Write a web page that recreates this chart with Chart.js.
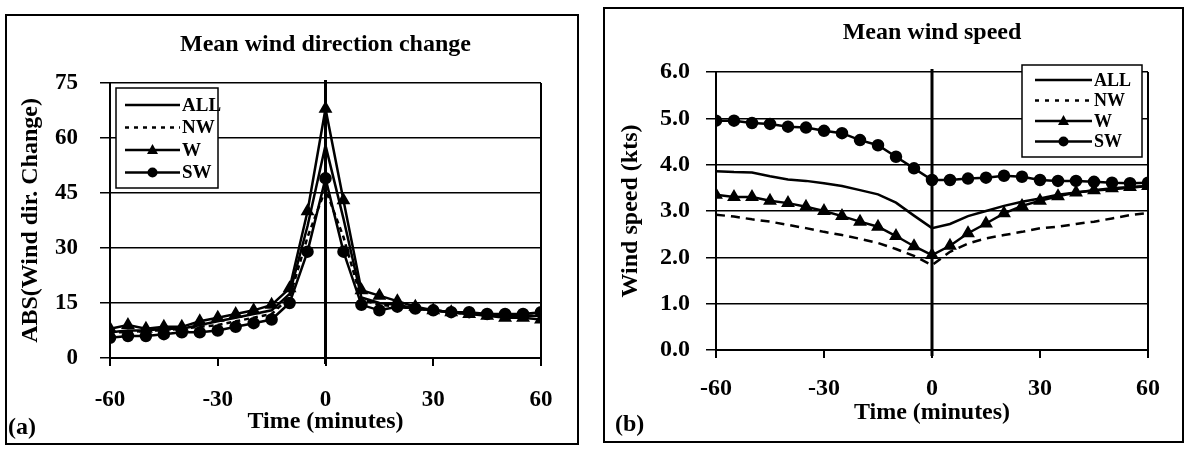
<!DOCTYPE html>
<html>
<head>
<meta charset="utf-8">
<title>Mean wind direction change / Mean wind speed</title>
<script src="https://cdn.jsdelivr.net/npm/chart.js@4.4.1/dist/chart.umd.min.js"></script>
<style>
  html, body { margin: 0; padding: 0; background: #fff; }
  body { width: 1189px; height: 450px; position: relative; overflow: hidden; font-family: 'Liberation Serif', 'Times New Roman', serif; }
  .panel { position: absolute; border: 2px solid #000; box-sizing: border-box; background: #fff; }
  .panel canvas { position: absolute; left: 0; top: 0; }
  .tag { position: absolute; font-weight: bold; font-size: 24px; line-height: 1; color: #000; }
</style>
</head>
<body>

<div class="panel" style="left:5px; top:14px; width:574px; height:431px;">
  <canvas id="chart-a" width="570" height="427"></canvas>
  <div class="tag" style="left:1px; top:398px;">(a)</div>
</div>

<div class="panel" style="left:603px; top:7px; width:581px; height:436px;">
  <canvas id="chart-b" width="577" height="432"></canvas>
  <div class="tag" style="left:10px; top:402px;">(b)</div>
</div>

<script>
// ---- data (every 5 minutes, -60 .. 60) ----
const timeMinutes = [-60, -55, -50, -45, -40, -35, -30, -25, -20, -15, -10, -5, 0,
                     5, 10, 15, 20, 25, 30, 35, 40, 45, 50, 55, 60];
const seriesNames = ['ALL', 'NW', 'W', 'SW'];

// (a) ABS(wind direction change), degrees
const dirAll = [7, 7.5, 7.5, 8, 8, 9, 10, 11, 12, 13, 17.5, 36, 58, 38, 16.5, 15, 14.5, 13.5, 13, 12.5, 12, 12, 11.5, 11.5, 11.5];
const dirNW  = [7, 7, 7.5, 7.5, 8, 8.5, 9, 10, 11, 12, 16.5, 33, 46, 33, 16, 14.5, 14, 13.5, 13, 12.5, 12, 12, 11.5, 11.5, 11.5];
const dirW   = [8, 9, 8, 8.5, 8.5, 10, 11, 12, 13, 14.5, 19, 40, 68, 43, 18.5, 17, 15.5, 14, 13, 12.5, 12, 11.5, 11, 11, 10.5];
const dirSW  = [5.5, 6, 6, 6.5, 7, 7, 7.5, 8.5, 9.5, 10.5, 15, 29, 49, 29, 14.5, 13, 14, 13.5, 13, 12.5, 12.5, 12, 12, 12, 12.5];

// (b) mean wind speed, kts
const spdAll = [3.86, 3.84, 3.83, 3.75, 3.68, 3.65, 3.60, 3.54, 3.45, 3.36, 3.18, 2.90, 2.63,
                2.72, 2.89, 3.00, 3.11, 3.20, 3.27, 3.35, 3.40, 3.44, 3.47, 3.50, 3.54];
const spdNW  = [2.92, 2.88, 2.82, 2.77, 2.70, 2.63, 2.55, 2.48, 2.40, 2.31, 2.18, 2.03, 1.83,
                2.12, 2.30, 2.41, 2.48, 2.55, 2.63, 2.66, 2.72, 2.77, 2.84, 2.91, 2.96];
const spdW   = [3.35, 3.30, 3.30, 3.22, 3.17, 3.09, 3.00, 2.89, 2.77, 2.66, 2.46, 2.24, 2.05,
                2.25, 2.52, 2.73, 2.95, 3.11, 3.22, 3.32, 3.40, 3.45, 3.49, 3.52, 3.54];
const spdSW  = [4.95, 4.95, 4.90, 4.88, 4.82, 4.80, 4.73, 4.68, 4.53, 4.42, 4.17, 3.92, 3.67,
                3.67, 3.70, 3.72, 3.76, 3.74, 3.67, 3.65, 3.65, 3.63, 3.61, 3.60, 3.61];

const xTicks = [-60, -30, 0, 30, 60];
const dirTicks = [0, 15, 30, 45, 60, 75];
const spdTicks = [0, 1, 2, 3, 4, 5, 6];

const FONT = "'Liberation Serif', 'Times New Roman', serif";
const INK = '#000';

function toPoints(values) {
  return timeMinutes.map((t, i) => ({ x: t, y: values[i] }));
}

// line/marker look for each series, shared by both panels
function buildDatasets(all, nw, w, sw, dash) {
  const base = { borderColor: INK, backgroundColor: INK, borderWidth: 2.5, tension: 0, pointBorderColor: INK, pointBackgroundColor: INK };
  return [
    { ...base, label: seriesNames[0], data: toPoints(all), pointRadius: 0 },
    { ...base, label: seriesNames[1], data: toPoints(nw), pointRadius: 0, borderDash: dash },
    { ...base, label: seriesNames[2], data: toPoints(w), pointStyle: 'triangle', pointRadius: 5.5 },
    { ...base, label: seriesNames[3], data: toPoints(sw), pointStyle: 'circle', pointRadius: 5 }
  ];
}

// thick vertical line at t = 0 plus right edge of the plot frame
const frameLines = {
  id: 'frameLines',
  afterDatasetsDraw(chart) {
    const { ctx, chartArea } = chart;
    const x0 = chart.scales.x.getPixelForValue(0);
    ctx.save();
    ctx.strokeStyle = INK;
    ctx.lineWidth = 2;
    ctx.beginPath();
    ctx.moveTo(chartArea.right, chartArea.top);
    ctx.lineTo(chartArea.right, chartArea.bottom);
    ctx.stroke();
    ctx.lineWidth = 3;
    ctx.beginPath();
    ctx.moveTo(x0, chartArea.top - 3);
    ctx.lineTo(x0, chartArea.bottom + 6);
    ctx.stroke();
    ctx.restore();
  }
};

// Excel-style boxed legend sitting inside the plot
const boxLegend = {
  id: 'boxLegend',
  afterDraw(chart, args, opts) {
    const { ctx, chartArea } = chart;
    const left = chartArea.left + opts.dx;
    const top = chartArea.top + opts.dy;
    ctx.save();
    ctx.fillStyle = '#fff';
    ctx.fillRect(left, top, opts.width, opts.height);
    ctx.strokeStyle = INK;
    ctx.lineWidth = 1.5;
    ctx.strokeRect(left, top, opts.width, opts.height);

    ctx.font = 'bold ' + opts.fontSize + 'px ' + FONT;
    ctx.textBaseline = 'middle';
    ctx.textAlign = 'left';
    chart.data.datasets.forEach((ds, i) => {
      const y = top + opts.rowStart + i * opts.rowGap;
      const x1 = left + opts.lineStart;
      const x2 = left + opts.lineEnd;
      ctx.strokeStyle = INK;
      ctx.lineWidth = 2.5;
      ctx.setLineDash(ds.borderDash ? opts.dash : []);
      ctx.beginPath();
      ctx.moveTo(x1, y);
      ctx.lineTo(x2, y);
      ctx.stroke();
      ctx.setLineDash([]);
      const mx = (x1 + x2) / 2;
      ctx.fillStyle = INK;
      if (ds.pointStyle === 'triangle') {
        ctx.beginPath();
        ctx.moveTo(mx, y - 6);
        ctx.lineTo(mx + 5.5, y + 4);
        ctx.lineTo(mx - 5.5, y + 4);
        ctx.closePath();
        ctx.fill();
      } else if (ds.pointStyle === 'circle' && ds.pointRadius > 0) {
        ctx.beginPath();
        ctx.arc(mx, y, 5, 0, Math.PI * 2);
        ctx.fill();
      }
      ctx.fillText(ds.label, x2 + 2, y + 1);
    });
    ctx.restore();
  }
};

function buildPanel(canvasId, p) {
  const ctx = document.getElementById(canvasId).getContext('2d');
  return new Chart(ctx, {
    type: 'line',
    data: { datasets: p.datasets },
    options: {
      responsive: false,
      animation: false,
      devicePixelRatio: 1,
      layout: { padding: p.padding },
      plugins: {
        legend: { display: false },
        tooltip: { enabled: false },
        title: {
          display: true,
          text: p.title,
          color: INK,
          fullSize: false,
          font: { family: FONT, size: 24, weight: 'bold', lineHeight: 1 },
          padding: p.titlePad
        },
        boxLegend: p.legend
      },
      scales: {
        x: {
          type: 'linear',
          min: -60,
          max: 60,
          afterBuildTicks: s => { s.ticks = xTicks.map(v => ({ value: v })); },
          afterFit: s => { s.height = p.xHeight; },
          grid: { drawOnChartArea: false, drawTicks: true, tickLength: 8, color: INK, lineWidth: 2 },
          border: { display: true, color: INK, width: 2 },
          ticks: { color: INK, padding: p.xTickPad, maxRotation: 0, font: { family: FONT, size: p.tickSize, weight: 'bold', lineHeight: 1 } },
          title: { display: true, text: 'Time (minutes)', color: INK, padding: { top: 0, bottom: 0 }, font: { family: FONT, size: 24, weight: 'bold', lineHeight: 1 } }
        },
        y: {
          min: 0,
          max: p.yMax,
          afterBuildTicks: s => { s.ticks = p.yTicks.map(v => ({ value: v })); },
          afterFit: s => { s.width = p.yWidth; },
          grid: { color: INK, lineWidth: 1.5, tickLength: 10 },
          border: { display: true, color: INK, width: 2 },
          ticks: { color: INK, padding: p.yTickPad, callback: p.yFormat, font: { family: FONT, size: p.tickSize, weight: 'bold', lineHeight: 1 } },
          title: { display: true, text: p.yTitle, color: INK, padding: { top: p.yTitleTop, bottom: 0 }, font: { family: FONT, size: 24, weight: 'bold', lineHeight: 1 } }
        }
      }
    },
    plugins: [frameLines, boxLegend]
  });
}

buildPanel('chart-a', {
  title: 'Mean wind direction change',
  yTitle: 'ABS(Wind dir. Change)',
  datasets: buildDatasets(dirAll, dirNW, dirW, dirSW, [5, 4]),
  yMax: 75,
  yTicks: dirTicks,
  yFormat: v => String(v),
  tickSize: 23,
  padding: { left: 0, right: 36, top: 0, bottom: 9.5 },
  titlePad: { top: 17, bottom: 26 },
  xHeight: 75.5,
  xTickPad: 22.5,
  yWidth: 103,
  yTickPad: 22,
  yTitleTop: 11.5,
  legend: { dx: 6, dy: 5, width: 102, height: 100, rowStart: 17, rowGap: 22.5, lineStart: 9, lineEnd: 64, fontSize: 19, dash: [4, 5] }
});

buildPanel('chart-b', {
  title: 'Mean wind speed',
  yTitle: 'Wind speed (kts)',
  datasets: buildDatasets(spdAll, spdNW, spdW, spdSW, [9, 6]),
  yMax: 6,
  yTicks: spdTicks,
  yFormat: v => Number(v).toFixed(1),
  tickSize: 24,
  padding: { left: 0, right: 34, top: 0, bottom: 16.5 },
  titlePad: { top: 12, bottom: 27 },
  xHeight: 74.5,
  xTickPad: 18.5,
  yWidth: 111,
  yTickPad: 16,
  yTitleTop: 13.5,
  legend: { dx: 306, dy: -7, width: 120, height: 92, rowStart: 15, rowGap: 20.5, lineStart: 13, lineEnd: 70, fontSize: 18, dash: [4, 6] }
});
</script>
</body>
</html>
